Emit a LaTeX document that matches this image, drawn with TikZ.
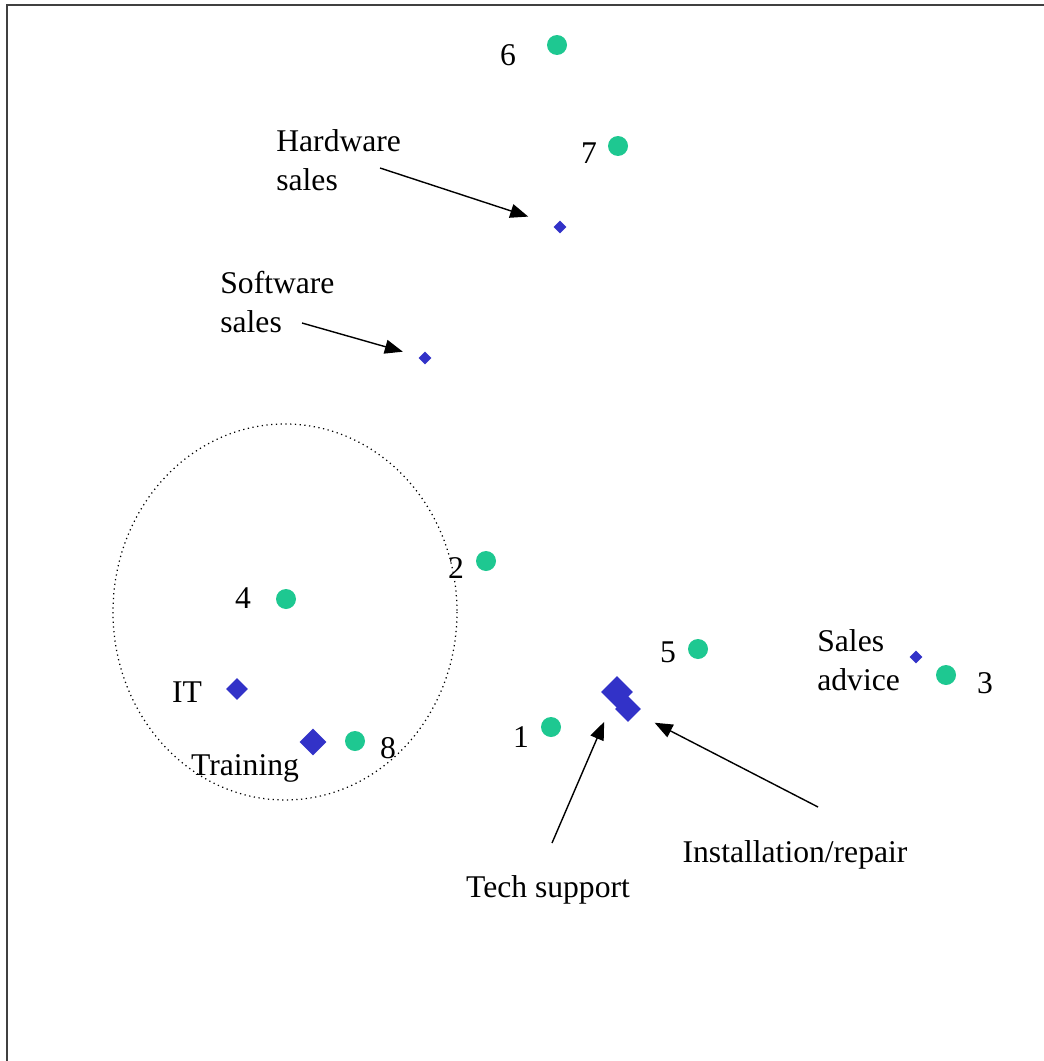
\documentclass[tikz,border=0pt]{standalone}
\usepackage{fontspec}
\setmainfont{Liberation Serif}
\usetikzlibrary{shapes.geometric, arrows.meta, positioning}
\definecolor{dotgreen}{RGB}{30,200,145}
\definecolor{itemblue}{RGB}{50,50,200}
\tikzset{
	frame/.style={line width=1.7pt, black!75},
	obs/.style={circle, fill=dotgreen, inner sep=0pt, minimum size=0.4cm},
	item/.style={diamond, fill=itemblue, inner sep=0pt, minimum size=0.26cm},
	lbl/.style={inner sep=0pt, align=left, font=\fontsize{18}{22}\selectfont},
	pointer/.style={-{Triangle[length=0.36cm, width=0.28cm]}, line width=0.8pt}
}

\begin{document}
\begin{tikzpicture}[x=0.02cm, y=-0.02cm]
	\useasboundingbox (0,0) rectangle (1044,1061);
	\draw[frame] (7,1061) -- (7,5) -- (1044,5);
	\draw[dotted, line width=0.7pt] (285,612) ellipse [x radius=172, y radius=188];
	% observations
	\node[obs] (p1) at (551,727) {};
	\node[obs] (p2) at (486,561) {};
	\node[obs] (p3) at (946,675) {};
	\node[obs] (p4) at (286,599) {};
	\node[obs] (p5) at (698,649) {};
	\node[obs] (p6) at (557,45) {};
	\node[obs] (p7) at (618,146) {};
	\node[obs] (p8) at (355,741) {};
	\node[lbl] (n1) at (521,737) {1};
	\node[lbl] (n2) at (456,568) {2};
	\node[lbl] (n3) at (985,683) {3};
	\node[lbl] (n4) at (243,598) {4};
	\node[lbl] (n5) at (668,652) {5};
	\node[lbl] (n6) at (508,55) {6};
	\node[lbl] (n7) at (589,153) {7};
	\node[lbl] (n8) at (388,748) {8};
	% services
	\node[item] (hw) at (560,227) {};
	\node[item] (sw) at (425,358) {};
	\node[item] (sa) at (916,657) {};
	\node[item, minimum size=0.44cm] (it) at (237,689) {};
	\node[item, minimum size=0.54cm] (tr) at (313,742) {};
	\node[item, minimum size=0.52cm] (ir) at (628,709) {};
	\node[item, minimum size=0.64cm] (ts) at (617,692) {};
	\node[lbl, anchor=west] (hwl) at (276,160) {Hardware\\sales};
	\node[lbl, anchor=west] (swl) at (220,302) {Software\\sales};
	\node[lbl, anchor=west] (sal) at (817,660) {Sales\\advice};
	\node[lbl] (itl) at (187,692) {IT};
	\node[lbl] (trl) at (245,768) {Training};
	\node[lbl] (tsl) at (548,890) {Tech support};
	\node[lbl] (irl) at (795,855) {Installation/repair};
	\coordinate (hwt) at (380,168);
	\coordinate (swt) at (302,323);
	\coordinate (tst) at (552,843);
	\coordinate (irt) at (818,807);
	\draw[pointer, shorten >=0.56cm] (hwt) -- (hw);
	\draw[pointer, shorten >=0.35cm] (swt) -- (sw);
	\draw[pointer, shorten >=0.4cm] (tst) -- (ts);
	\draw[pointer, shorten >=0.4cm] (irt) -- (ir);
\end{tikzpicture}
\end{document}
